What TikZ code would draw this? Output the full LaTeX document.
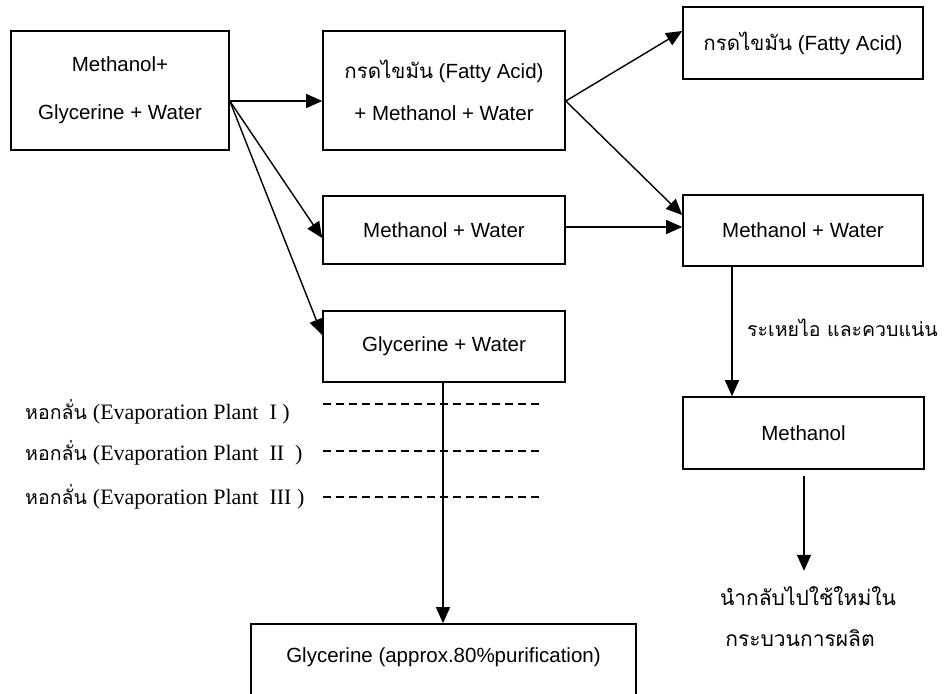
\documentclass[tikz,border=0pt]{standalone}
\usepackage{fontspec}
\setmainfont{Liberation Sans}
\newfontfamily\thaifont[Script=Thai]{Loma}
\newfontfamily\serifont{Liberation Serif}
\usetikzlibrary{arrows.meta}
\begin{document}
\begin{tikzpicture}[x=1pt,y=-1pt,
  box/.style={draw, line width=1.6pt, inner sep=0pt, align=center,
    font=\fontsize{20.5}{24}\selectfont},
  arr/.style={-{Triangle[length=16pt,width=14pt]}, line width=1.4pt},
  lbl/.style={inner sep=0pt, anchor=west, font=\fontsize{21}{24}\selectfont},
  tsz/.style={font=\fontsize{19.5}{24}\selectfont},
  plant/.style={lbl, font=\fontsize{22}{24}\selectfont},
  dline/.style={line width=1.2pt, dash pattern=on 8pt off 5pt}]
\useasboundingbox (0,0) rectangle (946,694);
\clip (0,0) rectangle (946,694);
% boxes
\node[box, minimum width=218pt, minimum height=119pt] (A) at (120,90.5)
  {Methanol+\\[24pt]Glycerine + Water};
\node[box, minimum width=242pt, minimum height=119pt] (B) at (444,90.5)
  {{\thaifont กรดไขมัน} (Fatty Acid)\\[18pt]+ Methanol + Water};
\node[box, minimum width=240pt, minimum height=72pt] (C) at (803,43)
  {{\thaifont กรดไขมัน} (Fatty Acid)};
\node[box, minimum width=242pt, minimum height=68pt] (D) at (444,230)
  {Methanol + Water};
\node[box, minimum width=240pt, minimum height=71pt] (E) at (803,230.5)
  {Methanol + Water};
\node[box, minimum width=242pt, minimum height=71pt] (F) at (444,346.5)
  {Glycerine + Water};
\node[box, minimum width=241pt, minimum height=72pt] (G) at (803.5,433)
  {Methanol};
\node[box, minimum width=385pt, minimum height=110pt] (H) at (443.5,679) {};
\node[inner sep=0pt, font=\fontsize{20.5}{24}\selectfont] (Ht) at (443.5,657)
  {Glycerine (approx.80\%purification)};
% labels
\node[lbl, tsz] (L1) at (747,328) {\thaifont ระเหยไอ และควบแน่น};
\node[lbl, anchor=center] (R1) at (808,596) {\thaifont นำกลับไปใช้ใหม่ใน};
\node[lbl, anchor=center] (R2) at (800,638) {\thaifont กระบวนการผลิต};
\node[plant] (P1) at (25,412)
  {{\thaifont\fontsize{19.5}{24}\selectfont หอกลั่น} {\serifont (Evaporation Plant\ \ I )}};
\node[plant] (P2) at (25,453)
  {{\thaifont\fontsize{19.5}{24}\selectfont หอกลั่น} {\serifont (Evaporation Plant\ \ II\ \ )}};
\node[plant] (P3) at (25,497)
  {{\thaifont\fontsize{19.5}{24}\selectfont หอกลั่น} {\serifont (Evaporation Plant\ \ III )}};
% dashed levels
\draw[dline] (323,404) -- (541,404);
\draw[dline] (323,451) -- (541,451);
\draw[dline] (323,497) -- (541,497);
% connectors
\coordinate (a0) at ([yshift=-10.5pt]A.east);
\coordinate (b0) at ([yshift=-10.5pt]B.east);
\draw[arr] (a0) -- (a0 -| B.west);
\draw[arr] (a0) -- ([yshift=-8pt]D.west);
\draw[arr] (a0) -- ([yshift=11.5pt]F.west);
\draw[arr] (b0) -- ([yshift=12pt]C.west);
\draw[arr] (b0) -- ([yshift=15.5pt]E.west);
\draw[arr] ([yshift=3pt]D.east) -- ([yshift=3pt]D.east -| E.west);
\draw[arr] ([xshift=-71pt]E.south) -- ([xshift=-71pt]E.south |- G.north);
\coordinate (g0) at ([xshift=0.5pt,yshift=-6pt]G.south);
\draw[arr] (g0) -- ++(0,95);
\draw[arr] ([xshift=-1pt]F.south) -- ([xshift=-1pt]F.south |- H.north);
\end{tikzpicture}
\end{document}
